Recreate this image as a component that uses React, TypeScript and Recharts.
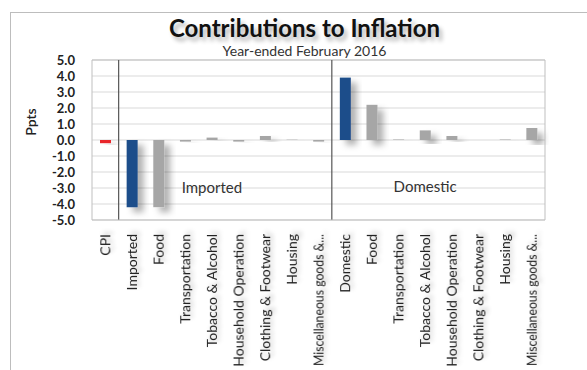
import React from 'react';
import {
  BarChart, Bar, Cell, XAxis, YAxis, CartesianGrid,
  ReferenceLine, ReferenceDot,
} from 'recharts';

const categories = [
  'CPI',
  'Imported', 'Food', 'Transportation', 'Tobacco & Alcohol', 'Household Operation',
  'Clothing & Footwear', 'Housing', 'Miscellaneous goods &...',
  'Domestic', 'Food', 'Transportation', 'Tobacco & Alcohol', 'Household Operation',
  'Clothing & Footwear', 'Housing', 'Miscellaneous goods &...',
];

// ppts contribution, year-ended Feb 2016
const contributions = [
  -0.2,
  -4.2, -4.2, -0.1, 0.15, -0.1, 0.25, 0.02, -0.1,
  3.9, 2.2, 0.03, 0.6, 0.25, 0.0, 0.03, 0.75,
];

// total / group / item
const kinds = [
  'total',
  'group', 'item', 'item', 'item', 'item', 'item', 'item', 'item',
  'group', 'item', 'item', 'item', 'item', 'item', 'item', 'item',
];

const yTicks = [5, 4, 3, 2, 1, 0, -1, -2, -3, -4, -5];

const colours: Record<string, string> = {
  total: '#e8252b',
  group: '#1f4e8a',
  item: '#a6a6a6',
};

const data = categories.map((name, i) => ({ id: i, name, value: contributions[i], kind: kinds[i] }));

const FONT = 'Lato, "Open Sans", sans-serif';

const XTick = (props: any) => {
  const { x, y, payload } = props;
  const label = categories[payload.value];
  const clipped = label.endsWith('...');
  return (
    <g transform={`translate(${x},${y + 6})`}>
      <text
        transform="rotate(-90)"
        textAnchor="end"
        dy={5}
        fontSize={14}
        fill="#222"
        fontFamily={FONT}
        filter="url(#txtShadow)"
        textLength={clipped ? 132 : undefined}
        lengthAdjust="spacingAndGlyphs"
      >
        {label}
      </text>
    </g>
  );
};

export default function App() {
  return (
    <div style={{ position: 'absolute', left: 0, top: 0, width: 587, height: 370, background: '#fff', overflow: 'hidden' }}>
      <div style={{ position: 'absolute', left: 10, top: 12, right: -2, bottom: -2, border: '1px solid #bdbdbd' }} />
      <div style={{
        position: 'absolute', left: 11, width: 587, top: 13, textAlign: 'center',
        fontFamily: FONT, fontWeight: 700, fontSize: 24, color: '#111',
        textShadow: '3px 4px 4px rgba(0,0,0,0.3)',
      }}>
        Contributions to Inflation
      </div>
      <div style={{
        position: 'absolute', left: 11, width: 587, top: 42, textAlign: 'center',
        fontFamily: FONT, fontSize: 14, color: '#333',
      }}>
        Year-ended February 2016
      </div>
      <div style={{
        position: 'absolute', left: 30, top: 122, transform: 'translate(-50%,-50%) rotate(-90deg)',
        fontFamily: FONT, fontSize: 14, fontWeight: 600, color: '#222',
      }}>
        Ppts
      </div>
      <div style={{ position: 'absolute', left: 0, top: 0 }}>
        <BarChart
          width={587}
          height={370}
          data={data}
          margin={{ top: 60, right: 42, bottom: 0, left: 32 }}
        >
          <defs>
            <filter id="barShadow" x="-50%" y="-20%" width="250%" height="160%">
              <feDropShadow dx={6} dy={5} stdDeviation={3} floodColor="#000" floodOpacity={0.3} />
            </filter>
            <filter id="txtShadow" x="-20%" y="-50%" width="160%" height="220%">
              <feDropShadow dx={3} dy={3} stdDeviation={2} floodColor="#000" floodOpacity={0.22} />
            </filter>
          </defs>
          <CartesianGrid vertical={false} stroke="#d9d9d9" />
          <XAxis
            dataKey="id"
            type="category"
            height={150}
            interval={0}
            tickLine={false}
            axisLine={{ stroke: '#bfbfbf' }}
            tick={<XTick />}
          />
          <YAxis
            width={60}
            domain={[-5, 5]}
            ticks={yTicks}
            interval={0}
            tickFormatter={(v: number) => v.toFixed(1)}
            tickLine={false}
            axisLine={{ stroke: '#bfbfbf' }}
            tickMargin={11}
            tick={{ fontSize: 13, fill: '#222', fontFamily: FONT, fontWeight: 700 }}
          />
          <ReferenceLine y={5} stroke="#bfbfbf" />
          <ReferenceLine x={16} position="end" stroke="#bfbfbf" />
          <ReferenceLine x={1} position="start" stroke="#555" strokeWidth={1.2} />
          <ReferenceLine x={9} position="start" stroke="#555" strokeWidth={1.2} />
          <ReferenceDot
            x={4}
            y={-3}
            r={0}
            label={{ value: 'Imported', position: 'center', fontSize: 15, fill: '#333', fontFamily: FONT }}
          />
          <ReferenceDot
            x={12}
            y={-2.9}
            r={0}
            label={{ value: 'Domestic', position: 'center', fontSize: 15, fill: '#333', fontFamily: FONT }}
          />
          <Bar dataKey="value" barSize={11} isAnimationActive={false}>
            {data.map((d) => (
              <Cell key={d.id} fill={colours[d.kind]} filter="url(#barShadow)" />
            ))}
          </Bar>
        </BarChart>
      </div>
    </div>
  );
}
